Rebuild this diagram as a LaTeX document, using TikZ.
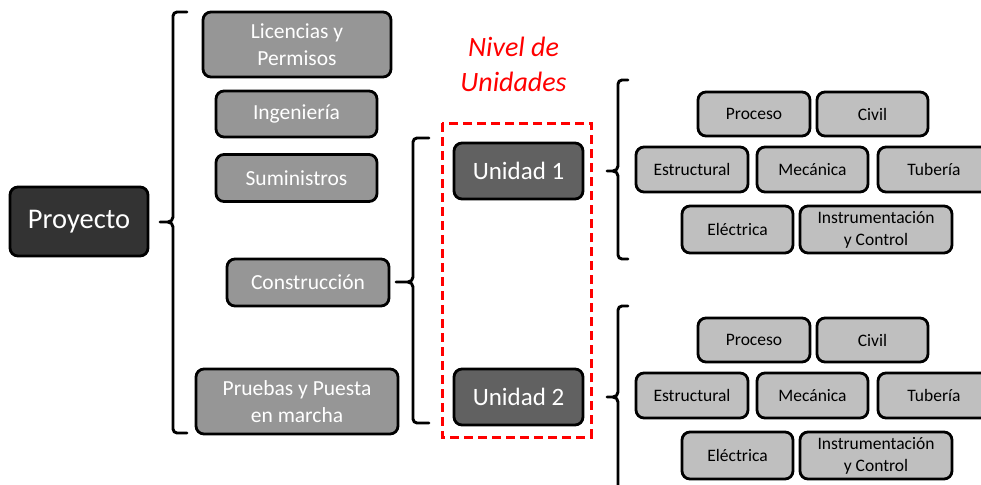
\documentclass[tikz,border=0pt]{standalone}
\usepackage{fontspec}
\setmainfont{Carlito}
\newcommand\fs[2]{\fontsize{#1}{#2}\selectfont}
\newcommand\mybrace[6]{% x, top, bottom, tip y, tip x, end x
  \draw[bracestyle] (#6,#2) -- (#1+4,#2) to[out=180,in=90] (#1,#2+4)
     -- (#1,#4-5) to[out=-90,in=0] (#1-5,#4) -- (#5,#4);
  \draw[bracestyle] (#1-5,#4) to[out=0,in=90] (#1,#4+5)
     -- (#1,#3-4) to[out=-90,in=180] (#1+4,#3) -- (#6,#3);
}
\tikzset{
  bracestyle/.style={line width=2.9pt, line cap=round, line join=round, black},
  base/.style={draw=black, line width=2.8pt, rounded corners=8pt, align=center, inner sep=0pt},
  topbox/.style={base, fill=black!80, text=white, font=\fs{28.5}{32}},
  lvl/.style={base, fill=black!41, text=white, font=\fs{21.5}{26.5}},
  unit/.style={base, fill=black!62, text=white, font=\fs{25}{30}},
  disc/.style={base, fill=black!25, text=black, font=\fs{17.5}{22}},
}
\begin{document}
\begin{tikzpicture}[x=1pt,y=-1pt]
\clip (0,0) rectangle (981,484);
\useasboundingbox (0,0) rectangle (981,484);
\fill[white] (0,0) rectangle (981,484);

% left part
\node[topbox, minimum width=138, minimum height=69] (proy) at (79,221.5) {Proyecto};
\node[lvl, minimum width=188, minimum height=65] (lic) at (297,44.5) {Licencias y\\Permisos};
\node[lvl, minimum width=161, minimum height=46] (ing) at (296.5,114) {Ingeniería};
\node[lvl, minimum width=161, minimum height=47] (sum) at (296.5,178) {Suministros};
\node[lvl, minimum width=162, minimum height=47] (con) at (308,282.5) {Construcción};
\node[lvl, minimum width=202, minimum height=65] (pru) at (297,401.5) {Pruebas y Puesta\\en marcha};

% units level
\node[text=red, font=\itshape\fs{28}{35}, align=center] (nivel) at (513.5,64) {Nivel de\\Unidades};
\draw[red, line width=3pt, dash pattern=on 9pt off 5pt] (442,123) rectangle (591,437);
\node[unit, minimum width=129, minimum height=56] (u1) at (518.5,171) {Unidad 1};
\node[unit, minimum width=129, minimum height=56] (u2) at (518.5,397) {Unidad 2};

% disciplines for each unit
\foreach \dy/\s in {0/a,226/b}{
  \node[disc, minimum width=112, minimum height=44] (proc\s) at (754,114+\dy) {Proceso};
  \node[disc, minimum width=111, minimum height=44] (civ\s) at (872.5,114+\dy) {Civil};
  \node[disc, minimum width=112, minimum height=45] (est\s) at (692,169.5+\dy) {Estructural};
  \node[disc, minimum width=111, minimum height=45] (mec\s) at (812.5,169.5+\dy) {Mecánica};
  \node[disc, minimum width=112, minimum height=45] (tub\s) at (934,169.5+\dy) {Tubería};
  \node[disc, minimum width=111, minimum height=47] (ele\s) at (737.5,229.5+\dy) {Eléctrica};
  \node[disc, minimum width=152, minimum height=47] (ins\s) at (876,229.5+\dy) {Instrumentación\\y Control};
}

% braces
\mybrace{173}{12}{433}{222}{160}{187}
\mybrace{413}{138}{423}{282}{396}{429}
\mybrace{618}{80}{259}{171}{607}{628}
\mybrace{618}{306}{520}{397}{607}{628}
\end{tikzpicture}
\end{document}
